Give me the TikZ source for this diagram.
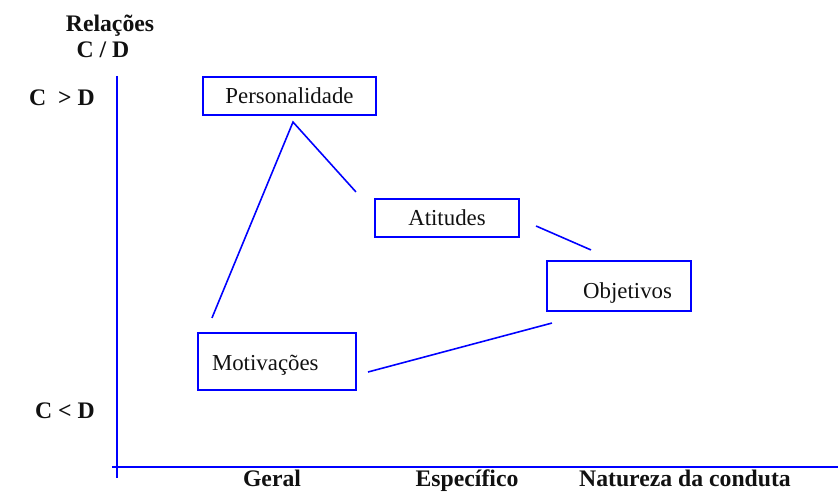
\documentclass[tikz,border=0pt]{standalone}
\usepackage{fontspec}
\setmainfont{Liberation Serif}
\usetikzlibrary{calc}
\definecolor{axisblue}{HTML}{0000FF}
\definecolor{ink}{HTML}{111111}
\tikzset{
  axisline/.style={draw=axisblue, line width=1.1pt},
  link/.style={draw=axisblue, line width=0.9pt},
  box/.style={draw=axisblue, line width=1.2pt, text=ink, inner ysep=0pt, font=\fontsize{13}{15}\selectfont},
  lbl/.style={text=ink, font=\fontsize{13.5}{16}\selectfont\bfseries, align=center},
  xlbl/.style={lbl, anchor=base}
}
\begin{document}
\begin{tikzpicture}[x=0.02cm, y=-0.02cm]
  \useasboundingbox (0,0) rectangle (838,492);

  % axes
  \coordinate (ytop) at (117,76);
  \coordinate (ybot) at (117,478);
  \coordinate (xleft) at (112,467);
  \coordinate (xright) at (838,467);
  \draw[axisline] (ytop) -- (ybot);
  \draw[axisline] (xleft) -- (xright);

  \node[lbl] (rel) at (110,26) {Relações};
  \node[lbl] (cd) at (103,50) {C / D};
  \node[lbl] (cgd) at (62,98) {C \ > D};
  \node[lbl] (cld) at (65,411) {C < D};
  \node[xlbl] (geral) at (272,487) {Geral};
  \node[xlbl] (espec) at (467,487) {Específico};
  \node[xlbl] (natur) at (685,487) {Natureza da conduta};

  % boxes
  \node[box, minimum width=3.46cm, minimum height=0.76cm] (pers) at (289.5,96) {Personalidade};
  \node[box, minimum width=2.88cm, minimum height=0.76cm] (atit) at (447,218) {Atitudes};
  \node[box, minimum height=1.0cm, inner xsep=0.38cm, text width=2.12cm, align=right,
        text height=0.6cm, text depth=0.1cm] (obj) at (619,286) {Objetivos};
  \node[box, minimum height=1.14cm, inner xsep=0.28cm, text width=2.6cm, align=left,
        text height=0.48cm, text depth=0.1cm] (mot) at (277,361.5) {Motivações};

  % links
  \coordinate (apex) at ($(pers.south)+(3.5,6)$);
  \coordinate (m1) at ($(mot.north west)+(15,-14)$);
  \coordinate (m2) at ($(mot.east)+(11,10.5)$);
  \coordinate (a1) at ($(atit.north west)+(-18,-6)$);
  \coordinate (a2) at ($(atit.east)+(16,8)$);
  \coordinate (o1) at ($(obj.north west)+(45,-10)$);
  \coordinate (o2) at ($(obj.south west)+(6,11)$);

  \draw[link] (m1) -- (apex) -- (a1);
  \draw[link] (a2) -- (o1);
  \draw[link] (m2) -- (o2);
\end{tikzpicture}
\end{document}
